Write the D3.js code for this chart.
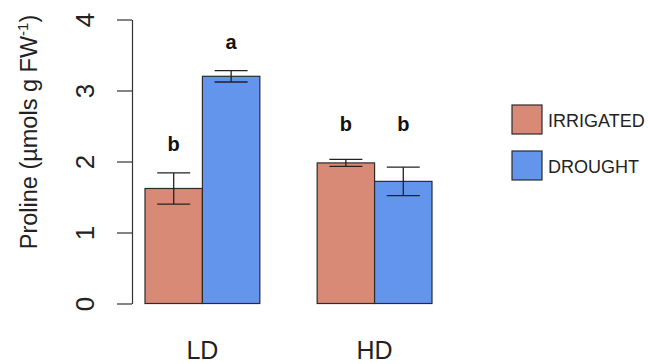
<!DOCTYPE html>
<html>
<head>
<meta charset="utf-8">
<script src="https://cdn.jsdelivr.net/npm/d3@7"></script>
<style>
  body { margin: 0; background: #fff; }
  svg { font-family: "Liberation Sans", Arial, sans-serif; }
</style>
</head>
<body>
<svg id="chart" width="648" height="364"></svg>
<script>
// data
var groups = ['LD', 'HD'];
var series = ['IRRIGATED', 'DROUGHT'];
var irrigated = [1.62, 1.98];
var drought = [3.20, 1.72];
var irrigatedErr = [0.22, 0.05];
var droughtErr = [0.08, 0.20];
var irrigatedLetters = ['b', 'b'];
var droughtLetters = ['a', 'b'];
// height (in y units) where each letter sits
var irrigatedLetterAt = [2.15, 2.43];
var droughtLetterAt = [3.58, 2.43];
var yTicks = [0, 1, 2, 3, 4];

var colors = { IRRIGATED: '#d98a77', DROUGHT: '#6495ed' };

var svg = d3.select('#chart');

var y = d3.scaleLinear().domain([0, 4]).range([303.5, 19.5]);
var x0 = d3.scaleBand().domain(groups).range([145, 432]).paddingInner(0.333);
var x1 = d3.scaleBand().domain(series).range([0, x0.bandwidth()]);

// build rows for bars
var rows = [];
groups.forEach(function(g, i) {
    rows.push({ group: g, key: 'IRRIGATED', value: irrigated[i], err: irrigatedErr[i], letter: irrigatedLetters[i], at: irrigatedLetterAt[i] });
    rows.push({ group: g, key: 'DROUGHT', value: drought[i], err: droughtErr[i], letter: droughtLetters[i], at: droughtLetterAt[i] });
});

function cx(d) { return x0(d.group) + x1(d.key) + x1.bandwidth() / 2; }

// bars
svg.append('g').selectAll('rect')
    .data(rows)
    .enter()
    .append('rect')
    .attr('x', function(d) { return x0(d.group) + x1(d.key); })
    .attr('y', function(d) { return y(d.value); })
    .attr('width', x1.bandwidth())
    .attr('height', function(d) { return y(0) - y(d.value); })
    .attr('fill', function(d) { return colors[d.key]; })
    .attr('stroke', '#2b2b2b')
    .attr('stroke-width', 1.2);

// error bars
var eb = svg.append('g').attr('stroke', '#222').attr('stroke-width', 1.3);
rows.forEach(function(d) {
    var c = cx(d);
    eb.append('line').attr('x1', c).attr('x2', c).attr('y1', y(d.value + d.err)).attr('y2', y(d.value - d.err));
    eb.append('line').attr('x1', c - 16.5).attr('x2', c + 16.5).attr('y1', y(d.value + d.err)).attr('y2', y(d.value + d.err));
    eb.append('line').attr('x1', c - 16.5).attr('x2', c + 16.5).attr('y1', y(d.value - d.err)).attr('y2', y(d.value - d.err));
});

// significance letters
svg.append('g').selectAll('text')
    .data(rows)
    .enter()
    .append('text')
    .attr('x', cx)
    .attr('y', function(d) { return y(d.at); })
    .attr('text-anchor', 'middle')
    .attr('font-weight', 'bold')
    .attr('font-size', 20)
    .attr('fill', '#111')
    .text(function(d) { return d.letter; });

// y axis
var yAxis = svg.append('g')
    .attr('transform', 'translate(132,0)')
    .call(d3.axisLeft(y).tickValues(yTicks).tickSize(15).tickSizeOuter(0).tickFormat(d3.format('d')));
yAxis.select('.domain').attr('stroke', '#333').attr('stroke-width', 1.2);
yAxis.selectAll('.tick line').attr('stroke', '#333').attr('stroke-width', 1.2);
yAxis.selectAll('.tick text')
    .attr('transform', 'rotate(-90)')
    .attr('x', 0)
    .attr('y', -38)
    .attr('dy', 0)
    .attr('text-anchor', 'middle')
    .attr('font-size', 26)
    .attr('fill', '#222');

// y label
var ylab = svg.append('text')
    .attr('transform', 'translate(37,132) rotate(-90)')
    .attr('text-anchor', 'middle')
    .attr('font-size', 23.5)
    .attr('fill', '#222');
ylab.append('tspan').text('Proline (µmols g FW');
ylab.append('tspan').attr('font-size', 15).attr('dy', -9).text('-1');
ylab.append('tspan').attr('dy', 9).text(')');

// x group labels
svg.append('g').selectAll('text')
    .data(groups)
    .enter()
    .append('text')
    .attr('x', function(g) { return x0(g) + x0.bandwidth() / 2; })
    .attr('y', 359)
    .attr('text-anchor', 'middle')
    .attr('font-size', 25)
    .attr('fill', '#222')
    .text(function(g) { return g; });

// legend
var legend = svg.append('g').selectAll('g')
    .data(series)
    .enter()
    .append('g')
    .attr('transform', function(d, i) { return 'translate(512,' + (105 + i * 46) + ')'; });
legend.append('rect')
    .attr('width', 30)
    .attr('height', 29)
    .attr('fill', function(d) { return colors[d]; })
    .attr('stroke', '#2b2b2b')
    .attr('stroke-width', 1.2);
legend.append('text')
    .attr('x', 36)
    .attr('y', 21.5)
    .attr('font-size', 18)
    .attr('fill', '#222')
    .text(function(d) { return d; });
</script>
</body>
</html>
